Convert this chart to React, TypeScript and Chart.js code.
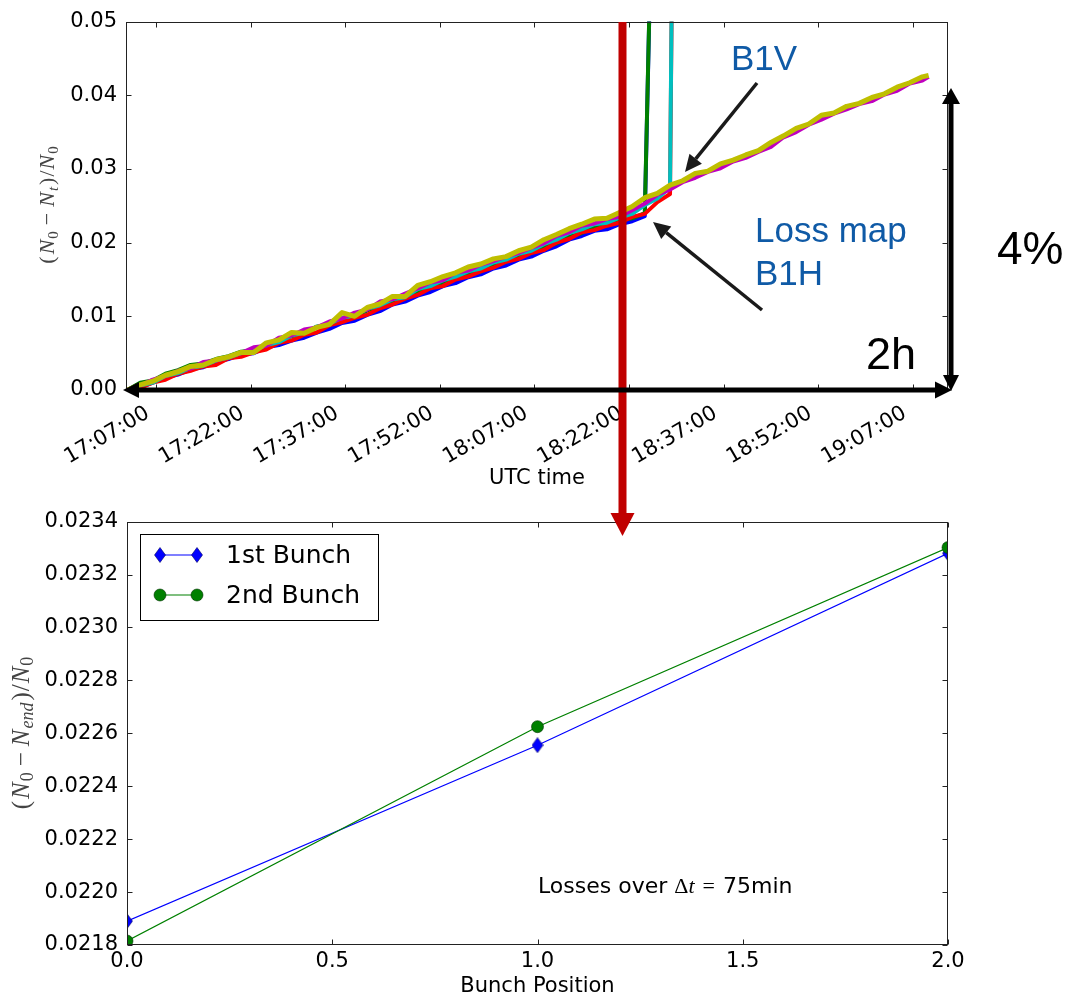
import React, { useEffect, useRef } from "react";
import { Chart, registerables } from "chart.js";

Chart.register(...registerables);

// ---------------- Top chart data (minutes after 17:00 UTC) ----------------
const TIMES = [
  2.5, 4.5, 6.5, 8.5, 10.5, 12.5, 14.5, 16.5, 18.5, 20.5,
  22.5, 24.5, 26.5, 28.5, 30.5, 32.5, 34.5, 36.5, 38.5, 40.5,
  42.5, 44.5, 46.5, 48.5, 50.5, 52.5, 54.5, 56.5, 58.5, 60.5,
  62.5, 64.5, 66.5, 68.5, 70.5, 72.5, 74.5, 76.5, 78.5, 80.5,
  82.5, 84.5, 86.5, 88.5, 90.5, 92.5, 94.5, 96.5, 98.5, 100.5,
  102.5, 104.5, 106.5, 108.5, 110.5, 112.5, 114.5, 116.5, 118.5, 120.5,
  122.5, 124.5, 126.5, 128.5, 129.5,
];

const TIME_TICKS = [7, 22, 37, 52, 67, 82, 97, 112, 127];
const TIME_TICK_LABELS = [
  "17:07:00", "17:22:00", "17:37:00", "17:52:00", "18:07:00",
  "18:22:00", "18:37:00", "18:52:00", "19:07:00",
];
const LOSS_TICKS = [0, 0.01, 0.02, 0.03, 0.04, 0.05];

const LOSS_BLUE = [
  0.0000, 0.0004, 0.0010, 0.0017, 0.0021, 0.0028, 0.0031, 0.0038, 0.0042, 0.0048,
  0.0050, 0.0058, 0.0061, 0.0067, 0.0071, 0.0078, 0.0083, 0.0091, 0.0094, 0.0102,
  0.0107, 0.0116, 0.0120, 0.0128, 0.0133, 0.0141, 0.0145, 0.0153, 0.0157, 0.0165,
  0.0169, 0.0177, 0.0181, 0.0189, 0.0195, 0.0204, 0.0209, 0.0216, 0.0218, 0.0225,
  0.0229, 0.0236, 0.1000,
];
const LOSS_GREEN = [
  0.0000, 0.0010, 0.0013, 0.0022, 0.0027, 0.0034, 0.0036, 0.0042, 0.0046, 0.0052,
  0.0054, 0.0062, 0.0066, 0.0073, 0.0077, 0.0086, 0.0089, 0.0097, 0.0100, 0.0108,
  0.0113, 0.0121, 0.0124, 0.0134, 0.0138, 0.0146, 0.0151, 0.0158, 0.0161, 0.0170,
  0.0174, 0.0182, 0.0186, 0.0194, 0.0199, 0.0208, 0.0213, 0.0221, 0.0223, 0.0230,
  0.0233, 0.0240, 0.1000,
];
const LOSS_RED = [
  0.0000, 0.0003, 0.0010, 0.0014, 0.0022, 0.0026, 0.0032, 0.0034, 0.0043, 0.0045,
  0.0051, 0.0055, 0.0064, 0.0067, 0.0075, 0.0078, 0.0088, 0.0092, 0.0098, 0.0102,
  0.0111, 0.0116, 0.0124, 0.0129, 0.0138, 0.0141, 0.0150, 0.0154, 0.0161, 0.0166,
  0.0174, 0.0178, 0.0186, 0.0190, 0.0200, 0.0205, 0.0214, 0.0217, 0.0223, 0.0227,
  0.0235, 0.0239, 0.0255, 0.0266, 0.2200,
];
const LOSS_CYAN = [
  0.0000, 0.0006, 0.0010, 0.0019, 0.0023, 0.0030, 0.0033, 0.0040, 0.0044, 0.0050,
  0.0053, 0.0061, 0.0065, 0.0074, 0.0078, 0.0086, 0.0090, 0.0098, 0.0101, 0.0110,
  0.0115, 0.0123, 0.0126, 0.0137, 0.0141, 0.0149, 0.0154, 0.0161, 0.0165, 0.0173,
  0.0177, 0.0185, 0.0189, 0.0198, 0.0204, 0.0213, 0.0218, 0.0225, 0.0227, 0.0234,
  0.0239, 0.0251, 0.0260, 0.0275, 0.2200,
];
const LOSS_MAGENTA = [
  0.0000, 0.0006, 0.0014, 0.0019, 0.0026, 0.0029, 0.0038, 0.0040, 0.0045, 0.0050,
  0.0058, 0.0060, 0.0071, 0.0074, 0.0082, 0.0085, 0.0093, 0.0097, 0.0105, 0.0109,
  0.0120, 0.0123, 0.0131, 0.0138, 0.0146, 0.0149, 0.0159, 0.0162, 0.0170, 0.0175,
  0.0181, 0.0186, 0.0193, 0.0199, 0.0209, 0.0214, 0.0223, 0.0226, 0.0232, 0.0235,
  0.0244, 0.0253, 0.0265, 0.0272, 0.0282, 0.0288, 0.0296, 0.0301, 0.0310, 0.0315,
  0.0323, 0.0330, 0.0343, 0.0350, 0.0360, 0.0367, 0.0375, 0.0381, 0.0388, 0.0392,
  0.0401, 0.0406, 0.0416, 0.0420, 0.0425,
];
const LOSS_YELLOW = [
  0.0000, 0.0007, 0.0012, 0.0020, 0.0025, 0.0032, 0.0034, 0.0041, 0.0045, 0.0051,
  0.0051, 0.0064, 0.0068, 0.0078, 0.0077, 0.0085, 0.0089, 0.0105, 0.0100, 0.0112,
  0.0117, 0.0127, 0.0127, 0.0142, 0.0147, 0.0154, 0.0159, 0.0167, 0.0171, 0.0178,
  0.0181, 0.0189, 0.0194, 0.0204, 0.0211, 0.0219, 0.0225, 0.0232, 0.0233, 0.0241,
  0.0249, 0.0261, 0.0267, 0.0278, 0.0284, 0.0294, 0.0297, 0.0307, 0.0312, 0.0319,
  0.0325, 0.0336, 0.0345, 0.0355, 0.0361, 0.0373, 0.0376, 0.0385, 0.0389, 0.0397,
  0.0402, 0.0411, 0.0417, 0.0425, 0.0427,
];

// ---------------- Bottom chart data ----------------
const POSITIONS = [0, 1, 2];
const BUNCH1 = [0.02189, 0.022555, 0.02328];
const BUNCH2 = [0.021815, 0.022625, 0.023302];
const BUNCH_LABELS = ["1st Bunch", "2nd Bunch"];
const POS_TICKS = [0, 0.5, 1, 1.5, 2];
const BUNCH_Y_TICKS = [0.0218, 0.022, 0.0222, 0.0224, 0.0226, 0.0228, 0.023, 0.0232, 0.0234];

const SANS = '"DejaVu Sans", sans-serif';
const SERIF = '"Liberation Serif", "DejaVu Serif", serif';

type Part = { t: string; font: string; dy?: number; gap?: number };

function drawParts(ctx: CanvasRenderingContext2D, parts: Part[], x: number, y: number, rot: number, center: boolean, color: string) {
  ctx.save();
  ctx.translate(x, y);
  if (rot) ctx.rotate(rot);
  ctx.textAlign = "left";
  ctx.textBaseline = "alphabetic";
  ctx.fillStyle = color;
  const widths = parts.map((p) => {
    ctx.font = p.font;
    return ctx.measureText(p.t).width + (p.gap ?? 0);
  });
  const total = widths.reduce((a, b) => a + b, 0);
  let cx = center ? -total / 2 : 0;
  parts.forEach((p, i) => {
    ctx.font = p.font;
    ctx.fillText(p.t, cx, p.dy ?? 0);
    cx += widths[i];
  });
  ctx.restore();
}

function yTitleParts(size: number, sub: string): Part[] {
  const s2 = Math.round(size * 0.7);
  const f = `${size}px ${SERIF}`, fi = `italic ${size}px ${SERIF}`;
  const fs = `${s2}px ${SERIF}`, fsi = `italic ${s2}px ${SERIF}`;
  return [
    { t: "(", font: f, gap: 2 },
    { t: "N", font: fi, gap: 1 },
    { t: "0", font: fs, dy: 4, gap: 6 },
    { t: "−", font: f, gap: 6 },
    { t: "N", font: fi, gap: 1 },
    { t: sub, font: fsi, dy: 4, gap: 2 },
    { t: ")", font: f, gap: 1 },
    { t: "/", font: f, gap: 1 },
    { t: "N", font: fi, gap: 1 },
    { t: "0", font: fs, dy: 4 },
  ];
}

const framePlugin = {
  id: "frameTicks",
  afterDatasetsDraw(chart: any) {
    const { ctx, chartArea: a, scales } = chart;
    ctx.save();
    ctx.strokeStyle = "#222";
    ctx.lineWidth = 1;
    const L = Math.round(a.left) + 0.5, R = Math.round(a.right) - 0.5;
    const T = Math.round(a.top) + 0.5, B = Math.round(a.bottom) - 0.5;
    ctx.strokeRect(L, T, R - L, B - T);
    ctx.beginPath();
    for (const t of scales.x.ticks) {
      const px = Math.round(scales.x.getPixelForValue(t.value)) + 0.5;
      ctx.moveTo(px, T); ctx.lineTo(px, T + 5);
      ctx.moveTo(px, B); ctx.lineTo(px, B - 5);
    }
    for (const t of scales.y.ticks) {
      const py = Math.round(scales.y.getPixelForValue(t.value)) + 0.5;
      ctx.moveTo(L, py); ctx.lineTo(L + 5, py);
      ctx.moveTo(R, py); ctx.lineTo(R - 5, py);
    }
    ctx.stroke();
    ctx.restore();
  },
};

function makeDiamond(color: string) {
  const c = document.createElement("canvas");
  c.width = 12; c.height = 16;
  const g = c.getContext("2d")!;
  g.beginPath();
  g.moveTo(6, 0.5); g.lineTo(11.5, 8); g.lineTo(6, 15.5); g.lineTo(0.5, 8); g.closePath();
  g.fillStyle = color; g.fill();
  g.strokeStyle = "#000060"; g.lineWidth = 0.6; g.stroke();
  return c;
}

function toPoints(vals: number[]) {
  return vals.map((v, i) => ({ x: TIMES[i], y: v }));
}

function arrowHead(x1: number, y1: number, x2: number, y2: number, len: number, half: number) {
  const dx = x2 - x1, dy = y2 - y1;
  const d = Math.hypot(dx, dy);
  const ux = dx / d, uy = dy / d;
  const bx = x2 - ux * len, by = y2 - uy * len;
  const nx = -uy, ny = ux;
  return {
    base: [bx, by],
    pts: `${x2},${y2} ${bx + nx * half},${by + ny * half} ${bx - nx * half},${by - ny * half}`,
  };
}

function Arrow({ x1, y1, x2, y2 }: { x1: number; y1: number; x2: number; y2: number }) {
  const h = arrowHead(x1, y1, x2, y2, 17, 8);
  return (
    <g>
      <line x1={x1} y1={y1} x2={h.base[0]} y2={h.base[1]} stroke="#1a1a1a" strokeWidth={3.5} />
      <polygon points={h.pts} fill="#1a1a1a" />
    </g>
  );
}

export default function App() {
  const topRef = useRef<HTMLCanvasElement>(null);
  const botRef = useRef<HTMLCanvasElement>(null);

  useEffect(() => {
    const tickFont = { family: SANS, size: 21 };
    const series = [
      { d: LOSS_BLUE, c: "#0000ff", o: 5 },
      { d: LOSS_GREEN, c: "#008000", o: 4 },
      { d: LOSS_RED, c: "#ff0000", o: 3 },
      { d: LOSS_CYAN, c: "#00bfbf", o: 2 },
      { d: LOSS_MAGENTA, c: "#bf00bf", o: 1 },
      { d: LOSS_YELLOW, c: "#bfbf00", o: 0 },
    ];
    const topTitle = {
      id: "topYTitle",
      afterDraw(chart: any) {
        drawParts(chart.ctx, yTitleParts(22, "t"), 54, 205, -Math.PI / 2, true, "#444");
      },
    };
    const top = new Chart(topRef.current!, {
      type: "line",
      data: {
        datasets: series.map((s) => ({
          data: toPoints(s.d),
          borderColor: s.c,
          backgroundColor: s.c,
          borderWidth: s.o === 0 ? 5 : 4,
          pointRadius: 0,
          tension: 0,
          order: s.o,
          clip: 0,
          borderJoinStyle: "round",
        })) as any,
      },
      options: {
        animation: false,
        responsive: false,
        devicePixelRatio: 1,
        layout: { padding: { left: 0, top: 20, right: 120, bottom: 0 } },
        plugins: { legend: { display: false }, tooltip: { enabled: false } },
        scales: {
          x: {
            type: "linear",
            min: 2.25,
            max: 132.57,
            grid: { display: false, drawTicks: false },
            border: { display: false },
            afterBuildTicks: (s: any) => { s.ticks = TIME_TICKS.map((v) => ({ value: v })); },
            afterFit: (s: any) => { s.height = 110; },
            ticks: {
              autoSkip: false,
              minRotation: 30,
              maxRotation: 30,
              padding: 11,
              labelOffset: -8,
              color: "#000",
              font: tickFont,
              callback: (v: any) => TIME_TICK_LABELS[TIME_TICKS.indexOf(Number(v))] ?? "",
            },
            title: { display: true, text: "UTC time", color: "#000", font: tickFont, padding: { top: 0, bottom: 9 } },
          },
          y: {
            min: 0,
            max: 0.05,
            grid: { display: false, drawTicks: false },
            border: { display: false },
            afterBuildTicks: (s: any) => { s.ticks = LOSS_TICKS.map((v) => ({ value: v })); },
            afterFit: (s: any) => { s.width = 126; },
            ticks: { padding: 9, color: "#000", font: tickFont, callback: (v: any) => Number(v).toFixed(2) },
          },
        },
      } as any,
      plugins: [framePlugin, topTitle],
    });

    const diamond = makeDiamond("#0000ff");
    const botExtras = {
      id: "botExtras",
      afterDraw(chart: any) {
        const ctx: CanvasRenderingContext2D = chart.ctx;
        drawParts(ctx, yTitleParts(25, "end"), 29, 233, -Math.PI / 2, true, "#444");
        drawParts(ctx, [
          { t: "Losses over ", font: `22px ${SANS}` },
          { t: "Δ", font: `22px ${SERIF}` },
          { t: "t", font: `italic 22px ${SERIF}`, gap: 8 },
          { t: "=", font: `22px ${SERIF}`, gap: 8 },
          { t: "75min", font: `22px ${SANS}` },
        ], 538, 393, 0, false, "#000");
        ctx.save();
        ctx.fillStyle = "#fff";
        ctx.fillRect(140, 34, 238, 86);
        ctx.strokeStyle = "#000";
        ctx.lineWidth = 1;
        ctx.strokeRect(140.5, 34.5, 238, 86);
        const rows = [
          { y: 55, color: "#0000ff", ds: 0 },
          { y: 95, color: "#008000", ds: 1 },
        ];
        for (const r of rows) {
          ctx.strokeStyle = r.color;
          ctx.lineWidth = 1.2;
          ctx.beginPath();
          ctx.moveTo(160, r.y); ctx.lineTo(197, r.y);
          ctx.stroke();
          for (const mx of [160, 197]) {
            if (r.ds === 0) {
              ctx.drawImage(diamond, mx - 6, r.y - 8);
            } else {
              ctx.beginPath();
              ctx.arc(mx, r.y, 6, 0, Math.PI * 2);
              ctx.fillStyle = r.color; ctx.fill();
              ctx.strokeStyle = "#003000"; ctx.lineWidth = 0.6; ctx.stroke();
            }
          }
          ctx.fillStyle = "#000";
          ctx.font = `25px ${SANS}`;
          ctx.textBaseline = "middle";
          ctx.textAlign = "left";
          ctx.fillText(chart.data.datasets[r.ds].label, 226, r.y + 1);
        }
        ctx.restore();
      },
    };

    const bot = new Chart(botRef.current!, {
      type: "line",
      data: {
        datasets: [
          {
            label: BUNCH_LABELS[0],
            data: POSITIONS.map((x, i) => ({ x, y: BUNCH1[i] })),
            borderColor: "#0000ff",
            borderWidth: 1.2,
            pointStyle: diamond,
            pointRadius: 7,
            order: 1,
          },
          {
            label: BUNCH_LABELS[1],
            data: POSITIONS.map((x, i) => ({ x, y: BUNCH2[i] })),
            borderColor: "#008000",
            borderWidth: 1.2,
            pointStyle: "circle",
            pointRadius: 6,
            pointBackgroundColor: "#008000",
            pointBorderColor: "#003000",
            pointBorderWidth: 0.6,
            order: 0,
          },
        ] as any,
      },
      options: {
        animation: false,
        responsive: false,
        devicePixelRatio: 1,
        layout: { padding: { left: 0, top: 21, right: 120, bottom: 0 } },
        plugins: { legend: { display: false }, tooltip: { enabled: false } },
        scales: {
          x: {
            type: "linear",
            min: 0,
            max: 2,
            grid: { display: false, drawTicks: false },
            border: { display: false },
            afterBuildTicks: (s: any) => { s.ticks = POS_TICKS.map((v) => ({ value: v })); },
            afterFit: (s: any) => { s.height = 54; },
            ticks: { autoSkip: false, maxRotation: 0, padding: 4, color: "#000", font: tickFont, callback: (v: any) => Number(v).toFixed(1) },
            title: { display: true, text: "Bunch Position", color: "#000", font: tickFont, padding: { top: 0, bottom: 0 } },
          },
          y: {
            min: 0.0218,
            max: 0.0234,
            grid: { display: false, drawTicks: false },
            border: { display: false },
            afterBuildTicks: (s: any) => { s.ticks = BUNCH_Y_TICKS.map((v) => ({ value: v })); },
            afterFit: (s: any) => { s.width = 127; },
            ticks: { padding: 9, color: "#000", font: tickFont, callback: (v: any) => Number(v).toFixed(4) },
          },
        },
      } as any,
      plugins: [framePlugin, botExtras],
    });

    return () => {
      top.destroy();
      bot.destroy();
    };
  }, []);

  const blue = "#0f5aa6";
  const lbl = { fontFamily: '"Liberation Sans", Arial, sans-serif' };
  const hL = arrowHead(140, 390, 123, 390, 16, 8);
  const hR = arrowHead(930, 390, 952, 390, 17, 8.5);
  const vT = arrowHead(951, 110, 951, 88, 16, 9);
  const vB = arrowHead(951, 370, 951, 391, 16, 8);

  return (
    <div style={{ position: "absolute", left: 0, top: 0, width: 1068, height: 999, background: "#fff" }}>
      <canvas ref={topRef} width={1068} height={500} style={{ position: "absolute", left: 0, top: 0, width: 1068, height: 500 }} />
      <canvas ref={botRef} width={1068} height={499} style={{ position: "absolute", left: 0, top: 500, width: 1068, height: 499 }} />
      <svg width={1068} height={999} style={{ position: "absolute", left: 0, top: 0, pointerEvents: "none" }}>
        <line x1={622.5} y1={22} x2={622.5} y2={515} stroke="#c00000" strokeWidth={8} />
        <polygon points="610.5,513 634.5,513 622.5,536" fill="#c00000" />
        <line x1={hL.base[0]} y1={390} x2={hR.base[0]} y2={390} stroke="#000" strokeWidth={5} />
        <polygon points={hL.pts} fill="#000" />
        <polygon points={hR.pts} fill="#000" />
        <line x1={951} y1={vT.base[1]} x2={951} y2={vB.base[1]} stroke="#000" strokeWidth={5} />
        <polygon points={vT.pts} fill="#000" />
        <polygon points={vB.pts} fill="#000" />
        <Arrow x1={757} y1={83} x2={685} y2={172} />
        <Arrow x1={762} y1={310} x2={653} y2={222} />
        <text x={731} y={70} fontSize={35} fill={blue} style={lbl}>B1V</text>
        <text x={755} y={242} fontSize={35} fill={blue} style={lbl}>Loss map</text>
        <text x={755} y={285} fontSize={35} fill={blue} style={lbl}>B1H</text>
        <text x={997} y={264} fontSize={46} fill="#000" style={lbl}>4%</text>
        <text x={866} y={369} fontSize={45} fill="#000" style={lbl}>2h</text>
      </svg>
    </div>
  );
}
